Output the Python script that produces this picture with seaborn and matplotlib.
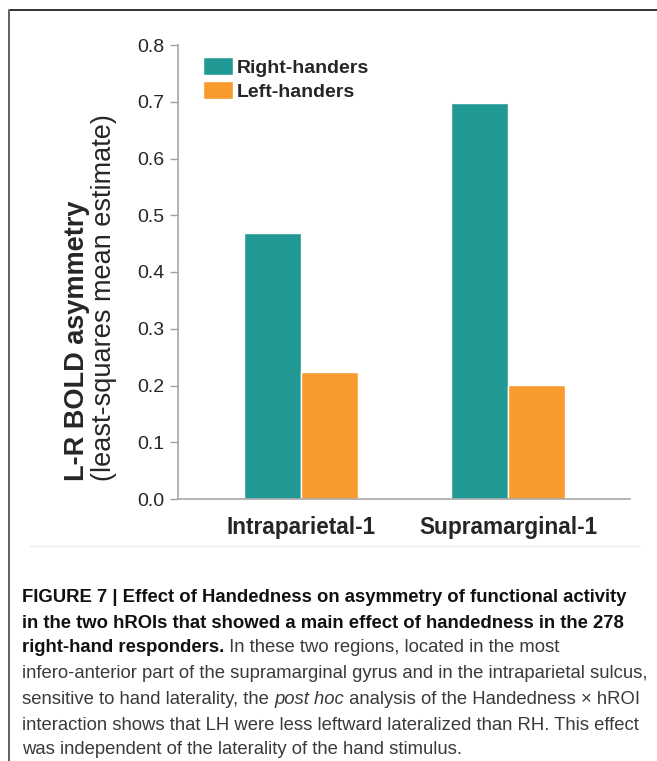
import matplotlib
matplotlib.use("Agg")
import matplotlib.pyplot as plt
import pandas as pd
import seaborn as sns

# ── Data ──────────────────────────────────────────────────────────────────────
regions = ["Intraparietal-1", "Supramarginal-1"]
groups = ["Right-handers", "Left-handers"]
right_handers = [0.469, 0.697]
left_handers = [0.224, 0.201]
yticks = [0.0, 0.1, 0.2, 0.3, 0.4, 0.5, 0.6, 0.7, 0.8]

colors = {"Right-handers": "#219A95", "Left-handers": "#F89A2E"}

df = pd.DataFrame({
    "region": regions * 2,
    "group": [groups[0]] * 2 + [groups[1]] * 2,
    "value": right_handers + left_handers,
})

sns.set_style("white")
plt.rcParams["font.family"] = ["Liberation Sans", "DejaVu Sans"]

W, H = 657, 761
fig = plt.figure(figsize=(W / 100, H / 100), dpi=100)
ax = fig.add_axes([178 / W, 1 - 499 / H, 452 / W, 454 / H])

sns.barplot(data=df, x="region", y="value", hue="group", hue_order=groups,
            palette=colors, width=0.55, saturation=1, ax=ax, legend=True)

ax.set_xlim(-0.594, 1.589)
ax.set_ylim(0, 0.8)
ax.set_yticks(yticks)
ax.set_yticklabels([f"{t:.1f}" for t in yticks], fontsize=14)
ax.tick_params(axis="y", left=True, length=6, width=1, color="#a0a0a0", pad=4)
ax.tick_params(axis="x", bottom=False, pad=9)
for lbl in ax.get_xticklabels():
    lbl.set_fontsize(16.3)
    lbl.set_fontweight("bold")
ax.set_xlabel("")
ax.set_ylabel("")
for s in ["top", "right"]:
    ax.spines[s].set_visible(False)
for s in ["left", "bottom"]:
    ax.spines[s].set_color("#a8a8a8")
    ax.spines[s].set_linewidth(1.2)

ax.legend(loc="upper left", bbox_to_anchor=(25 / 452, 1 - 12 / 454), frameon=False,
          borderpad=0, borderaxespad=0,
          handlelength=1.55, handleheight=1.08, handletextpad=0.2,
          labelspacing=0.2, prop={"weight": "bold", "size": 14})

# two-line y label
fig.text(77 / W, 1 - 481 / H, "L-R BOLD asymmetry", rotation=90,
         ha="center", va="bottom", fontsize=19.5, fontweight="bold")
fig.text(104 / W, 1 - 481 / H, "(least-squares mean estimate)", rotation=90,
         ha="center", va="bottom", fontsize=19.5)

# ── Frame lines & separator ───────────────────────────────────────────────────
fig.add_artist(plt.Line2D([10 / W, 1.0], [1 - 10 / H] * 2, color="#222222", lw=1.3))
fig.add_artist(plt.Line2D([9 / W] * 2, [0, 1 - 10 / H], color="#555555", lw=1.3))
fig.add_artist(plt.Line2D([30 / W, 640 / W], [1 - 546 / H] * 2, color="#eeeeee", lw=1))

# ── Caption ───────────────────────────────────────────────────────────────────
cap_size = 13.3
cap_x = 22 / W
line_y = [597, 623, 648, 674, 699, 725, 749]
lines = [
    [("FIGURE 7 | Effect of Handedness on asymmetry of functional activity", "bold", "normal")],
    [("in the two hROIs that showed a main effect of handedness in the 278", "bold", "normal")],
    [("right-hand responders.", "bold", "normal"),
     (" In these two regions, located in the most", "normal", "normal")],
    [("infero-anterior part of the supramarginal gyrus and in the intraparietal sulcus,", "normal", "normal")],
    [("sensitive to hand laterality, the ", "normal", "normal"),
     ("post hoc", "normal", "italic"),
     (" analysis of the Handedness \u00d7 hROI", "normal", "normal")],
    [("interaction shows that LH were less leftward lateralized than RH. This effect", "normal", "normal")],
    [("was independent of the laterality of the hand stimulus.", "normal", "normal")],
]
for y, segs in zip(line_y, lines):
    last = None
    for txt, weight, style in segs:
        color = "#111111" if weight == "bold" else "#3a3a3a"
        if last is None:
            last = fig.text(cap_x, 1 - y / H, txt, ha="left", va="center",
                            fontsize=cap_size, fontweight=weight, fontstyle=style,
                            color=color)
        else:
            # continue the line right after the previous run
            last = ax.annotate(txt, xy=(1, 0), xycoords=last, va="bottom",
                               ha="left", fontsize=cap_size, fontweight=weight,
                               fontstyle=style, color=color,
                               annotation_clip=False)

fig.savefig("out.png", dpi=100)
